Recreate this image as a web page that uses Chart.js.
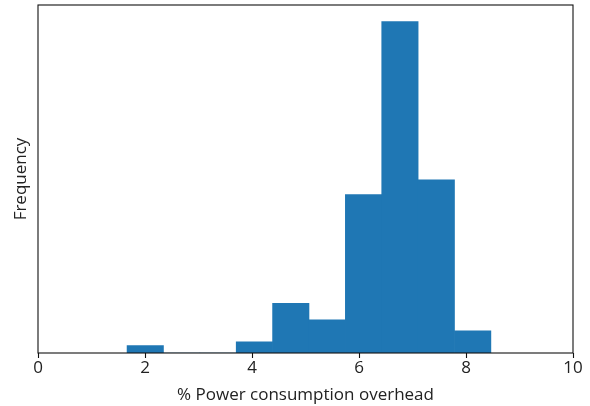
<!DOCTYPE html>
<html>
<head>
<meta charset="utf-8">
<script src="https://cdn.jsdelivr.net/npm/chart.js@4/dist/chart.umd.min.js"></script>
<style>
  html, body { margin: 0; padding: 0; background: #fff; }
  #wrap { width: 590px; height: 406px; }
</style>
</head>
<body>
<div id="wrap"><canvas id="hist"></canvas></div>
<script>
// Bords des classes (10 classes) et effectifs
const binEdges = [1.665, 2.345, 3.025, 3.705, 4.385, 5.065, 5.745, 6.425, 7.105, 7.785, 8.465];
const counts = [4, 0, 0, 6, 27, 18, 86, 180, 94, 12];
const xTicks = [0, 2, 4, 6, 8, 10];
const xTitle = '% Power consumption overhead';
const yTitle = 'Frequency';

const points = counts.map((c, i) => ({ x: (binEdges[i] + binEdges[i + 1]) / 2, y: c }));

// Cadre complet autour de la zone de tracé (comme les "spines" matplotlib)
const framePlugin = {
  id: 'frame',
  afterDraw(chart) {
    const { ctx, chartArea: a } = chart;
    ctx.save();
    ctx.strokeStyle = '#111';
    ctx.lineWidth = 1.1;
    ctx.strokeRect(a.left, a.top, a.right - a.left, a.bottom - a.top);
    ctx.restore();
  }
};

const font = { family: 'Open Sans', size: 17 };
const textColor = '#222';

new Chart(document.getElementById('hist'), {
  type: 'bar',
  data: {
    datasets: [{
      data: points,
      backgroundColor: '#1f77b4',
      borderColor: '#1f77b4',
      borderWidth: 0,
      barPercentage: 1.0,
      categoryPercentage: 1.0
    }]
  },
  options: {
    responsive: true,
    maintainAspectRatio: false,
    animation: false,
    layout: { padding: { top: 5, right: 17, left: 0, bottom: 0 } },
    plugins: {
      legend: { display: false },
      tooltip: { enabled: false }
    },
    scales: {
      x: {
        type: 'linear',
        min: 0,
        max: 10,
        offset: false,
        afterFit: (scale) => { scale.height = 53; },
        afterBuildTicks: (scale) => { scale.ticks = xTicks.map(v => ({ value: v })); },
        border: { display: false },
        grid: {
          display: true,
          offset: false,
          drawOnChartArea: false,
          drawTicks: true,
          tickLength: 5,
          tickColor: '#111',
          tickWidth: 1.1
        },
        ticks: { color: textColor, font: font, padding: 0, maxRotation: 0 },
        title: {
          display: true,
          text: xTitle,
          color: textColor,
          font: font,
          padding: { top: 0, bottom: 1 }
        }
      },
      y: {
        min: 0,
        max: 189,
        afterFit: (scale) => { scale.width = 38; },
        border: { display: false },
        grid: { display: false },
        ticks: { display: false },
        title: {
          display: true,
          text: yTitle,
          color: textColor,
          font: font,
          padding: { top: 11, bottom: 0 }
        }
      }
    }
  },
  plugins: [framePlugin]
});
</script>
</body>
</html>
